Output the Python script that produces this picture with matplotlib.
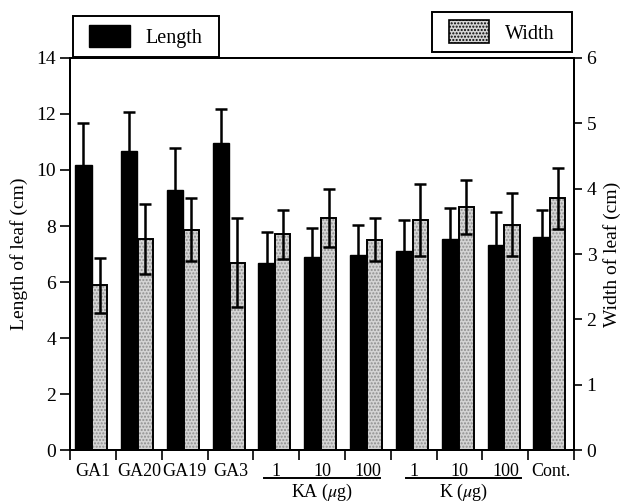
import numpy as np
import matplotlib
matplotlib.use("Agg")
import matplotlib.pyplot as plt
import matplotlib.patches as mpatches
from matplotlib.transforms import blended_transform_factory

plt.rcParams['font.family'] = ['Liberation Serif', 'DejaVu Serif']
plt.rcParams['mathtext.fontset'] = 'stix'

# data
groups = ["GA1", "GA20", "GA19", "GA3", "1", "10", "100", "1", "10", "100", "Cont."]
length_mean = [10.19, 10.68, 9.27, 10.98, 6.68, 6.88, 6.98, 7.10, 7.53, 7.31, 7.60]
length_err = [1.47, 1.38, 1.52, 1.21, 1.10, 1.06, 1.05, 1.10, 1.12, 1.19, 0.97]
width_mean = [2.52, 3.23, 3.37, 2.87, 3.30, 3.55, 3.22, 3.52, 3.72, 3.45, 3.85]
width_err = [0.42, 0.54, 0.48, 0.68, 0.38, 0.45, 0.33, 0.55, 0.41, 0.48, 0.47]

x = np.arange(len(groups))
W, H = 620, 504

fig = plt.figure(figsize=(6.2, 5.04), dpi=100)
ax = fig.add_axes([0.113, 0.107, 0.813, 0.778])
ax2 = ax.twinx()

ekw = dict(ecolor='black', elinewidth=1.8, capsize=4, capthick=1.8)
stip = dict(color='#d4d4d4', edgecolor='#8f8f8f', hatch='.....', linewidth=0)

ax.bar(x - 0.21, length_mean, 0.36, color='black', edgecolor='black',
       yerr=length_err, error_kw=ekw, zorder=2)

# stippled bars: grey fill + dotted hatch, black outline on top
ax2.bar(x + 0.145, width_mean, 0.33, zorder=2, **stip)
ax2.bar(x + 0.145, width_mean, 0.33, fill=False, edgecolor='black',
        linewidth=1.4, zorder=3)
ax2.errorbar(x + 0.145, width_mean, yerr=width_err, fmt='none', zorder=4, **ekw)

ax.set_xlim(-0.5, 10.5)
ax.set_ylim(0, 14)
ax2.set_ylim(0, 6)
ax.set_yticks(range(0, 15, 2))
ax2.set_yticks(range(0, 7))

ax.set_xticks(x)
ax.set_xticklabels(groups, fontsize=13)
ax.set_xticks(np.arange(-0.5, 11, 1), minor=True)
ax.tick_params(axis='x', which='major', length=0, pad=9)
ax.tick_params(axis='x', which='minor', length=7, width=1.2, direction='out')
ax.tick_params(axis='y', length=7, width=1.2, labelsize=14, pad=3)
ax2.tick_params(axis='y', length=6, width=1.2, labelsize=14, pad=3)

for a in (ax, ax2):
    for s in a.spines.values():
        s.set_linewidth(1.4)

ax.set_ylabel("Length of leaf (cm)", fontsize=14)
ax.yaxis.set_label_coords(-0.083, 0.5)
ax2.set_ylabel("Width of leaf (cm)", fontsize=14)
ax2.yaxis.set_label_coords(1.058, 0.5)

# treatment group brackets under the tick labels
tr = blended_transform_factory(ax.transData, ax.transAxes)
ax.plot([3.74, 6.26], [-0.072, -0.072], color='black', lw=1.4,
        transform=tr, clip_on=False)
ax.plot([6.83, 9.35], [-0.072, -0.072], color='black', lw=1.4,
        transform=tr, clip_on=False)
ax.text(5.0, -0.108, r"KA ($\mu$g)", transform=tr, ha='center', va='center', fontsize=13)
ax.text(8.09, -0.108, r"K ($\mu$g)", transform=tr, ha='center', va='center', fontsize=13)

# two separate framed key boxes above the plot
lpatch = mpatches.Patch(facecolor='black', edgecolor='black')
wpatch = mpatches.Patch(edgecolor='black', facecolor='#d4d4d4', hatch='.....',
                        linewidth=1.2)
boxes = [((72.7, 15.7, 219.3, 56.7), lpatch, "Length"),
         ((432.3, 11.7, 571.7, 52.3), wpatch, "Width")]
for i, ((x0, y0, x1, y1), h, lab) in enumerate(boxes):
    ax2.add_patch(mpatches.Rectangle((x0 / W, 1 - y1 / H), (x1 - x0) / W, (y1 - y0) / H,
                                     transform=fig.transFigure, facecolor='white',
                                     edgecolor='black', linewidth=1.4, zorder=5,
                                     clip_on=False))
    leg = ax2.legend([h], [lab], loc='center',
                     bbox_to_anchor=((x0 + x1) / 2 / W, 1 - (y0 + y1) / 2 / H),
                     bbox_transform=fig.transFigure, frameon=False, fontsize=14.5,
                     handlelength=2.0, handleheight=1.35, handletextpad=0.8,
                     borderpad=0, borderaxespad=0)
    leg.set_zorder(6)
    if i == 0:
        ax2.add_artist(leg)

fig.savefig("out.png", dpi=100)
